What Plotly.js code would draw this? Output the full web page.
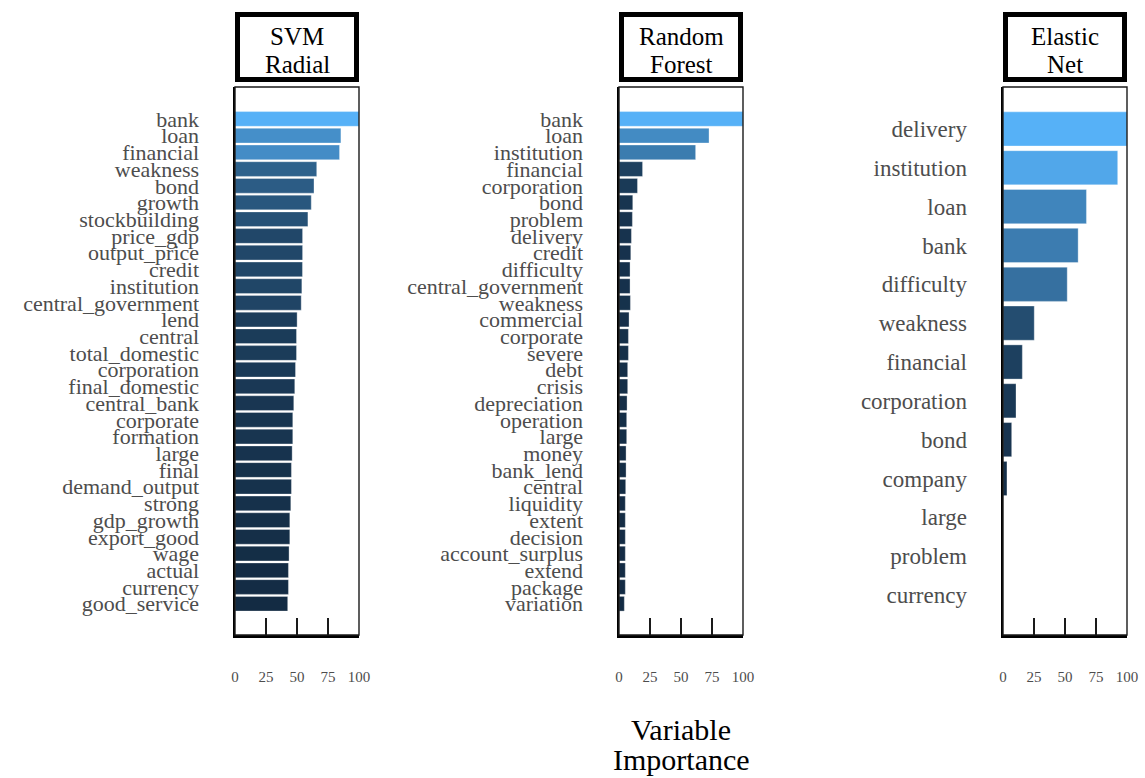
<!DOCTYPE html>
<html>
<head>
<meta charset="utf-8">
<script src="https://cdn.plot.ly/plotly-3.0.1.min.js"></script>
<style>html,body{margin:0;padding:0;background:#fff;}#chart{width:1145px;height:778px;}</style>
</head>
<body>
<div id="chart"></div>
<script>
// ---- data ----
const svmTerms = ["bank","loan","financial","weakness","bond","growth","stockbuilding","price_gdp","output_price","credit","institution","central_government","lend","central","total_domestic","corporation","final_domestic","central_bank","corporate","formation","large","final","demand_output","strong","gdp_growth","export_good","wage","actual","currency","good_service"];
const svmValues = [100,85.4,84.3,65.9,63.7,61.5,58.8,54.5,54.5,54.4,53.9,53.4,50.1,49.6,49.6,48.8,48.2,47.4,46.6,46.6,46.1,45.5,45.5,45.0,44.2,44.2,43.6,43.1,43.1,42.5];

const rfTerms = ["bank","loan","institution","financial","corporation","bond","problem","delivery","credit","difficulty","central_government","weakness","commercial","corporate","severe","debt","crisis","depreciation","operation","large","money","bank_lend","central","liquidity","extent","decision","account_surplus","extend","package","variation"];
const rfValues = [100,72.6,61.8,19.0,14.9,11.1,10.8,10.0,9.5,8.9,8.9,9.2,8.1,7.6,7.6,7.0,7.0,6.5,6.2,6.2,5.7,5.7,5.4,5.1,5.1,5.1,5.1,5.1,5.1,4.3];

const enTerms = ["delivery","institution","loan","bank","difficulty","weakness","financial","corporation","bond","company","large","problem","currency"];
const enValues = [100,92.5,67.3,60.6,51.8,25.2,15.6,10.5,7.0,3.2,0,0,0];

const panelTitles = [["SVM","Radial"],["Random","Forest"],["Elastic","Net"]];
const xTickVals = [0,25,50,75,100];
const xTickText = ["0","25","50","75","100"];
const bottomTitle = ["Variable","Importance"];

// ---- layout helpers ----
const W = 1145, H = 778;
const serif = "Liberation Serif";
const px = v => v / W;
const py = v => 1 - v / H;
const panelX = [[235,359],[619,743],[1003,1127]];
const panelTop = 87, panelBottom = 635;
const padTop = [1.91,1.91,1.08], padBottom = [1.87,1.87,1.03];
const labelSize = [22,22,23];
const colorscale = [[0,"#132B43"],[1,"#56B1F7"]];

const series = [[svmTerms,svmValues],[rfTerms,rfValues],[enTerms,enValues]];
const traces = [];
const layout = {
  width: W, height: H,
  margin: {l:0,r:0,t:0,b:0},
  paper_bgcolor: "#ffffff", plot_bgcolor: "#ffffff",
  showlegend: false,
  font: {family: serif, color: "#000"},
  shapes: [], annotations: []
};

series.forEach(([terms, vals], i) => {
  const n = i === 0 ? "" : String(i + 1);
  const mn = Math.min(...vals), mx = Math.max(...vals);
  traces.push({
    type: "bar", orientation: "h",
    x: vals, y: terms,
    xaxis: "x" + n, yaxis: "y" + n,
    width: 0.88,
    marker: {color: vals, colorscale: colorscale, cmin: mn, cmax: mx, showscale: false,
             line: {width: 0.6, color: "rgba(255,255,255,0.55)"}},
    hoverinfo: "x+y"
  });
  layout["xaxis" + n] = {
    domain: [px(panelX[i][0]), px(panelX[i][1])],
    anchor: "y" + n,
    range: [0, 100],
    tickmode: "array", tickvals: xTickVals, ticktext: xTickText,
    ticks: "inside", ticklen: 17, tickwidth: 1.6, tickcolor: "#1a1a1a",
    ticklabelstandoff: 26,
    tickfont: {family: serif, size: 15, color: "#4d4d4d"},
    showline: true, linewidth: 2.5, linecolor: "#000",
    showgrid: false, zeroline: false, fixedrange: true
  };
  layout["yaxis" + n] = {
    domain: [py(panelBottom), py(panelTop)],
    anchor: "x" + n,
    type: "category", categoryorder: "array", categoryarray: terms,
    tickmode: "array", tickvals: terms, ticktext: terms,
    range: [terms.length - 1 + padBottom[i], -padTop[i]],
    ticks: "outside", ticklen: 29, tickcolor: "rgba(0,0,0,0)",
    tickfont: {family: serif, size: labelSize[i], color: "#4d4d4d"},
    showline: true, linewidth: 2.5, linecolor: "#000",
    showgrid: false, zeroline: false, fixedrange: true
  };
  // thin panel border (top/right)
  layout.shapes.push({type: "rect", xref: "paper", yref: "paper",
    x0: px(panelX[i][0]), x1: px(panelX[i][1]), y0: py(panelBottom), y1: py(panelTop),
    line: {color: "#1a1a1a", width: 1.4}, fillcolor: "rgba(0,0,0,0)", layer: "above"});
  // header strip box
  layout.shapes.push({type: "rect", xref: "paper", yref: "paper",
    x0: px(panelX[i][0] + 2.5), x1: px(panelX[i][1] - 2.5), y0: py(79.5), y1: py(14.5),
    line: {color: "#000", width: 5}, fillcolor: "#fff"});
  const cx = px((panelX[i][0] + panelX[i][1]) / 2);
  [36, 64].forEach((yy, k) => {
    layout.annotations.push({xref: "paper", yref: "paper",
      x: cx, y: py(yy), xanchor: "center", yanchor: "middle", showarrow: false,
      text: panelTitles[i][k], font: {family: serif, size: 25, color: "#000"}});
  });
});

layout.annotations.push({xref: "paper", yref: "paper",
  x: px(681), y: py(729), xanchor: "center", yanchor: "middle", showarrow: false,
  text: bottomTitle[0], font: {family: serif, size: 30, color: "#000"}});
layout.annotations.push({xref: "paper", yref: "paper",
  x: px(681), y: 0, xanchor: "center", yanchor: "bottom", showarrow: false,
  text: bottomTitle[1], font: {family: serif, size: 30, color: "#000"}});

Plotly.newPlot("chart", traces, layout, {displayModeBar: false, staticPlot: true});
</script>
</body>
</html>
